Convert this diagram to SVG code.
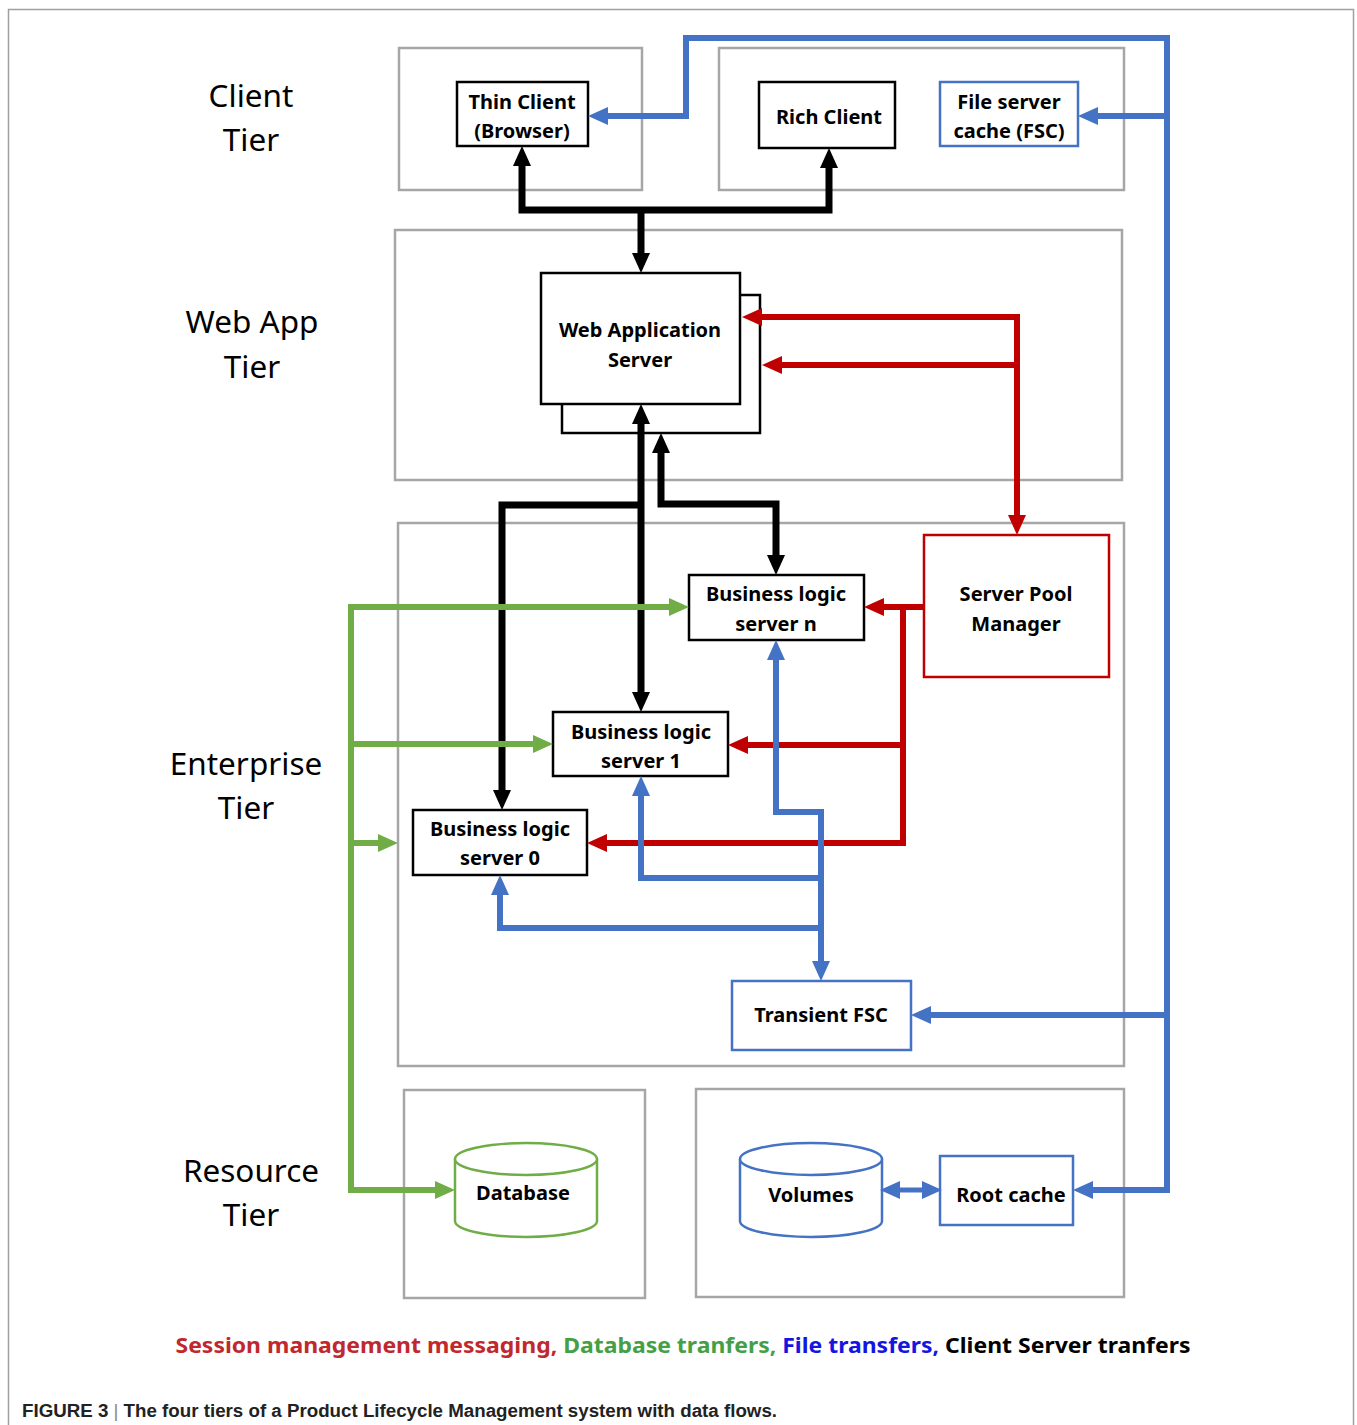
<svg xmlns="http://www.w3.org/2000/svg" width="1357" height="1425" viewBox="0 0 1357 1425">
<style>
.tier{fill:none;stroke:#a6a6a6;stroke-width:2.5}
.node{fill:#fff;stroke:#000;stroke-width:2.5}
.nodeb{fill:#fff;stroke:#4472c4;stroke-width:2.5}
.noder{fill:#fff;stroke:#c00000;stroke-width:2.5}
.nodeg{fill:#fff;stroke:#70ad47;stroke-width:2.5}
.nt{font-family:"Noto Sans","DejaVu Sans",sans-serif;font-weight:bold;font-size:20px;text-anchor:middle;fill:#000}
.tl{font-family:"Noto Sans","DejaVu Sans",sans-serif;font-size:31.5px;text-anchor:middle;fill:#000}
.k{fill:none;stroke:#000;stroke-width:7}
.r{fill:none;stroke:#c00000;stroke-width:6}
.g{fill:none;stroke:#70ad47;stroke-width:6}
.b{fill:none;stroke:#4472c4;stroke-width:6}
</style>
<defs>
<marker id="ak" viewBox="0 0 20 18" refX="0" refY="9" markerWidth="20" markerHeight="18" markerUnits="userSpaceOnUse" orient="auto-start-reverse"><path d="M0,0 L20,9 L0,18 z" fill="#000"/></marker>
<marker id="ar" viewBox="0 0 20 18" refX="0" refY="9" markerWidth="20" markerHeight="18" markerUnits="userSpaceOnUse" orient="auto-start-reverse"><path d="M0,0 L20,9 L0,18 z" fill="#c00000"/></marker>
<marker id="ag" viewBox="0 0 20 18" refX="0" refY="9" markerWidth="20" markerHeight="18" markerUnits="userSpaceOnUse" orient="auto-start-reverse"><path d="M0,0 L20,9 L0,18 z" fill="#70ad47"/></marker>
<marker id="ab" viewBox="0 0 20 18" refX="0" refY="9" markerWidth="20" markerHeight="18" markerUnits="userSpaceOnUse" orient="auto-start-reverse"><path d="M0,0 L20,9 L0,18 z" fill="#4472c4"/></marker>
</defs>
<rect x="0" y="0" width="1357" height="1425" fill="#fff"/>
<rect x="8.5" y="9.5" width="1345" height="1430" fill="none" stroke="#a0a0a0" stroke-width="1.5"/>

<g id="tiers">
<rect class="tier" x="399" y="48" width="243" height="142"/>
<rect class="tier" x="719" y="48" width="405" height="142"/>
<rect class="tier" x="395" y="230" width="727" height="250"/>
<rect class="tier" x="398" y="523" width="726" height="543"/>
<rect class="tier" x="404" y="1090" width="241" height="208"/>
<rect class="tier" x="696" y="1089" width="428" height="208"/>
</g>

<g id="tier-labels">
<text class="tl" x="251" y="107">Client</text>
<text class="tl" x="251" y="151">Tier</text>
<text class="tl" x="252" y="333">Web App</text>
<text class="tl" x="252" y="378">Tier</text>
<text class="tl" x="246" y="775">Enterprise</text>
<text class="tl" x="246" y="819">Tier</text>
<text class="tl" x="251" y="1182">Resource</text>
<text class="tl" x="251" y="1226">Tier</text>
</g>

<g id="thin-client">
<rect class="node" x="457" y="82" width="131" height="64"/>
<text class="nt" x="522" y="109">Thin Client</text>
<text class="nt" x="522" y="138">(Browser)</text>
</g>
<g id="rich-client">
<rect class="node" x="759" y="82" width="136" height="66"/>
<text class="nt" x="829" y="124">Rich Client</text>
</g>
<g id="fsc">
<rect class="nodeb" x="940" y="82" width="138" height="64"/>
<text class="nt" x="1009" y="109">File server</text>
<text class="nt" x="1009" y="138">cache (FSC)</text>
</g>
<g id="web-app-server">
<rect class="node" x="562" y="295" width="198" height="138"/>
<rect class="node" x="541" y="273" width="199" height="131"/>
<text class="nt" x="640" y="337">Web Application</text>
<text class="nt" x="640" y="367">Server</text>
</g>
<g id="server-pool-manager">
<rect class="noder" x="924" y="535" width="185" height="142"/>
<text class="nt" x="1016" y="601">Server Pool</text>
<text class="nt" x="1016" y="631">Manager</text>
</g>
<g id="bls-n">
<rect class="node" x="689" y="575" width="175" height="65"/>
<text class="nt" x="776" y="601">Business logic</text>
<text class="nt" x="776" y="631">server n</text>
</g>
<g id="bls-1">
<rect class="node" x="553" y="712" width="175" height="64"/>
<text class="nt" x="641" y="739">Business logic</text>
<text class="nt" x="641" y="768">server 1</text>
</g>
<g id="bls-0">
<rect class="node" x="413" y="810" width="174" height="65"/>
<text class="nt" x="500" y="836">Business logic</text>
<text class="nt" x="500" y="865">server 0</text>
</g>
<g id="transient-fsc">
<rect class="nodeb" x="732" y="981" width="179" height="69"/>
<text class="nt" x="821" y="1022">Transient FSC</text>
</g>
<g id="database">
<path class="nodeg" d="M455,1159 A71,16 0 0 1 597,1159 V1221 A71,16 0 0 1 455,1221 Z"/>
<path class="nodeg" d="M455,1159 A71,16 0 0 0 597,1159" fill="none"/>
<text class="nt" x="523" y="1200">Database</text>
</g>
<g id="volumes">
<path class="nodeb" d="M740,1159 A71,16 0 0 1 882,1159 V1221 A71,16 0 0 1 740,1221 Z"/>
<path class="nodeb" d="M740,1159 A71,16 0 0 0 882,1159" fill="none"/>
<text class="nt" x="811" y="1202">Volumes</text>
</g>
<g id="root-cache">
<rect class="nodeb" x="940" y="1156" width="133" height="69"/>
<text class="nt" x="1011" y="1202">Root cache</text>
</g>

<g id="connectors">
<path class="k" d="M522,166 V210 H829 V168" marker-start="url(#ak)" marker-end="url(#ak)"/>
<path class="k" d="M641,210 V253" marker-end="url(#ak)"/>
<path class="k" d="M641,424 V692" marker-start="url(#ak)" marker-end="url(#ak)"/>
<path class="k" d="M641,505 H502 V790" marker-end="url(#ak)"/>
<path class="k" d="M661,453 V504 H776 V555" marker-start="url(#ak)" marker-end="url(#ak)"/>

<path class="r" d="M762,317 H1017 V515" marker-start="url(#ar)" marker-end="url(#ar)"/>
<path class="r" d="M1017,365 H782" marker-end="url(#ar)"/>
<path class="r" d="M924,607 H884" marker-end="url(#ar)"/>
<path class="r" d="M903,607 V843 H607" marker-end="url(#ar)"/>
<path class="r" d="M903,745 H748" marker-end="url(#ar)"/>

<path class="g" d="M669,607 H351 V1190 H435" marker-start="url(#ag)" marker-end="url(#ag)"/>
<path class="g" d="M351,744 H533" marker-end="url(#ag)"/>
<path class="g" d="M351,843 H378" marker-end="url(#ag)"/>

<path class="b" d="M608,116 H686 V38 H1167 V1190 H1093" marker-start="url(#ab)" marker-end="url(#ab)"/>
<path class="b" d="M1167,116 H1098" marker-end="url(#ab)"/>
<path class="b" d="M1167,1015 H931" marker-end="url(#ab)"/>
<path class="b" d="M821,961 V812 H776 V660" marker-start="url(#ab)" marker-end="url(#ab)"/>
<path class="b" d="M821,878 H641 V796" marker-end="url(#ab)"/>
<path class="b" d="M821,928 H500 V895" marker-end="url(#ab)"/>
<path class="b" d="M900,1190 H922" marker-start="url(#ab)" marker-end="url(#ab)" style="stroke-width:5"/>
</g>

<g id="legend">
<text x="683" y="1353" text-anchor="middle" font-family="'Noto Sans','DejaVu Sans',sans-serif" font-weight="bold" font-size="22" textLength="1015" lengthAdjust="spacingAndGlyphs"><tspan fill="#c0282d">Session management messaging, </tspan><tspan fill="#45a045">Database tranfers, </tspan><tspan fill="#1515e0">File transfers, </tspan><tspan fill="#000">Client Server tranfers</tspan></text>
</g>
<g id="caption">
<text x="22" y="1417" font-family="'Liberation Sans',Arial,sans-serif" font-weight="bold" font-size="18" fill="#222" textLength="755" lengthAdjust="spacingAndGlyphs">FIGURE 3<tspan font-weight="normal" fill="#888"> | </tspan>The four tiers of a Product Lifecycle Management system with data flows.</text>
</g>
</svg>
